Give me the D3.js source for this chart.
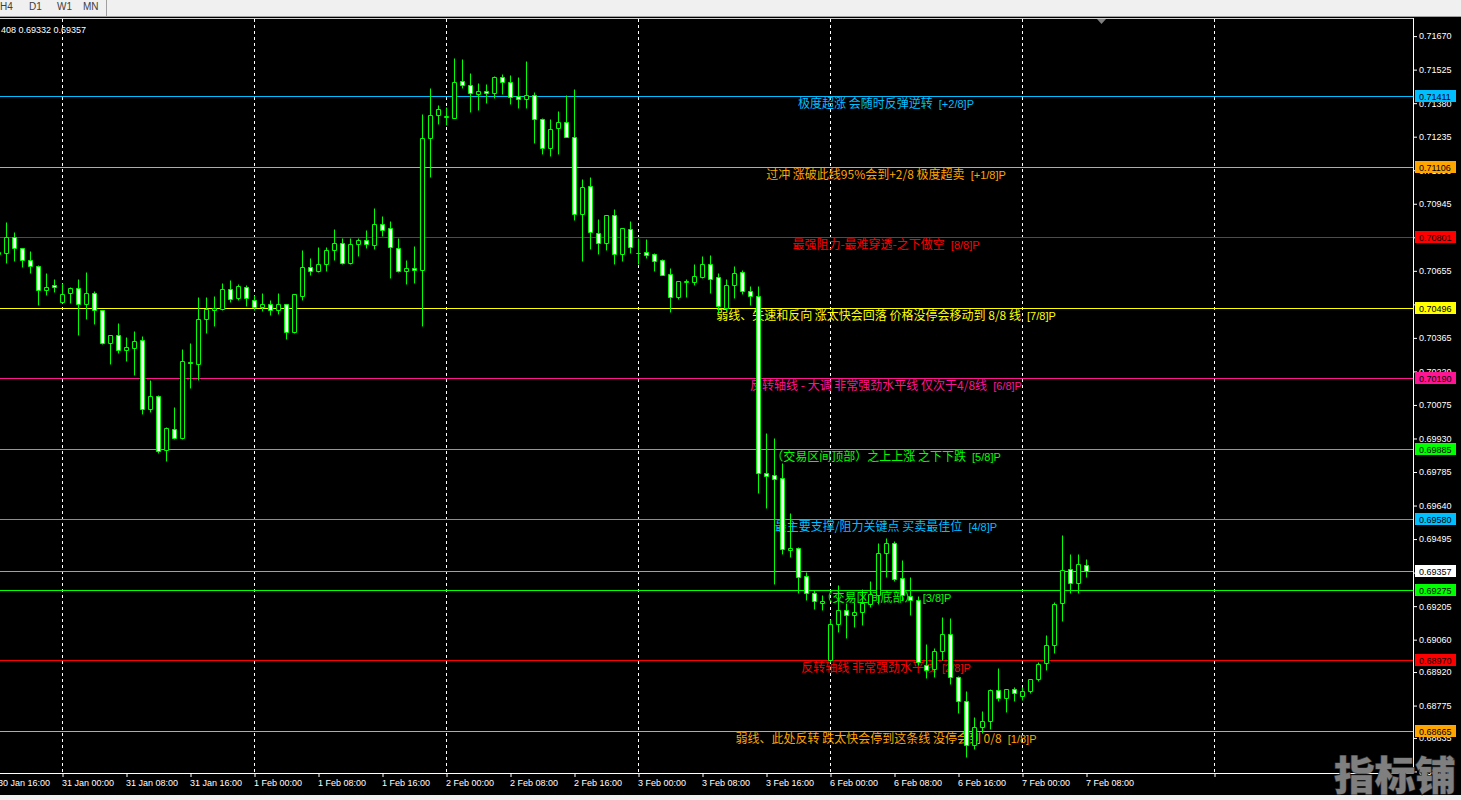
<!DOCTYPE html>
<html><head><meta charset="utf-8">
<script src="https://cdn.jsdelivr.net/npm/d3@7"></script>
<style>
html,body{margin:0;padding:0;background:#000;overflow:hidden}
svg{display:block}
</style></head><body>
<svg id="c" width="1461" height="800"></svg>
<script>
// ---------- DATA ----------
const opens = [0.70728,0.70731,0.70803,0.70752,0.70700,0.70675,0.70571,0.70592,0.70521,0.70560,
0.70579,0.70513,0.70558,0.70484,0.70344,0.70377,0.70314,0.70323,0.70355,0.70059,
0.70112,0.69880,0.69970,0.69933,0.70260,0.70251,0.70445,0.70485,0.70489,0.70575,
0.70536,0.70586,0.70528,0.70500,0.70510,0.70484,0.70510,0.70392,0.70547,0.70670,
0.70656,0.70683,0.70744,0.70774,0.70688,0.70770,0.70788,0.70765,0.70856,0.70839,
0.70752,0.70656,0.70666,0.70660,0.71228,0.71327,0.71319,0.71317,0.71475,0.71457,
0.71418,0.71431,0.71423,0.71492,0.71470,0.71410,0.71397,0.71414,0.71310,0.71185,
0.71271,0.71297,0.71232,0.70899,0.71020,0.70820,0.70777,0.70895,0.70726,0.70835,
0.70733,0.70735,0.70726,0.70700,0.70640,0.70541,0.70606,0.70606,0.70630,0.70683,
0.70627,0.70494,0.70592,0.70649,0.70566,0.70545,0.69779,0.69771,0.69758,0.69446,
0.69455,0.69334,0.69261,0.69219,0.68972,0.69127,0.69187,0.69165,0.69178,0.69213,
0.69252,0.69434,0.69477,0.69325,0.69248,0.69230,0.68949,0.68932,0.69010,0.69083,
0.68897,0.68794,0.68603,0.68681,0.68707,0.68841,0.68807,0.68845,0.68815,0.68837,
0.68889,0.68958,0.69036,0.69217,0.69364,0.69304,0.69382];
const highs = [0.70767,0.70866,0.70822,0.70755,0.70741,0.70680,0.70646,0.70620,0.70602,0.70584,
0.70620,0.70650,0.70568,0.70486,0.70377,0.70429,0.70369,0.70395,0.70373,0.70183,
0.70117,0.69978,0.70066,0.70317,0.70343,0.70542,0.70542,0.70546,0.70602,0.70615,
0.70598,0.70594,0.70550,0.70559,0.70529,0.70559,0.70510,0.70555,0.70745,0.70710,
0.70758,0.70758,0.70836,0.70797,0.70797,0.70797,0.70832,0.70927,0.70892,0.70870,
0.70797,0.70702,0.70762,0.71333,0.71446,0.71372,0.71365,0.71575,0.71571,0.71510,
0.71467,0.71463,0.71497,0.71506,0.71502,0.71493,0.71562,0.71428,0.71314,0.71311,
0.71346,0.71415,0.71441,0.71052,0.71061,0.70878,0.70895,0.70922,0.70839,0.70870,
0.70796,0.70791,0.70731,0.70705,0.70666,0.70610,0.70618,0.70683,0.70718,0.70722,
0.70644,0.70618,0.70675,0.70657,0.70588,0.70588,0.69952,0.69932,0.69823,0.69607,
0.69462,0.69354,0.69275,0.69252,0.69148,0.69295,0.69220,0.69224,0.69278,0.69315,
0.69477,0.69498,0.69485,0.69403,0.69330,0.69248,0.69040,0.69023,0.69157,0.69152,
0.68903,0.68837,0.68724,0.68750,0.68845,0.68936,0.68845,0.68854,0.68854,0.68889,
0.68962,0.69079,0.69222,0.69513,0.69429,0.69429,0.69408];
const lows = [0.70710,0.70690,0.70699,0.70673,0.70647,0.70509,0.70550,0.70563,0.70518,0.70516,
0.70377,0.70447,0.70426,0.70339,0.70253,0.70300,0.70265,0.70205,0.70037,0.70046,
0.69869,0.69834,0.69929,0.69929,0.70150,0.70184,0.70387,0.70418,0.70486,0.70519,
0.70529,0.70504,0.70486,0.70483,0.70464,0.70470,0.70362,0.70387,0.70530,0.70637,
0.70651,0.70656,0.70702,0.70683,0.70683,0.70719,0.70755,0.70749,0.70806,0.70625,
0.70651,0.70599,0.70604,0.70418,0.71062,0.71291,0.71284,0.71314,0.71447,0.71343,
0.71352,0.71382,0.71404,0.71418,0.71378,0.71360,0.71360,0.71209,0.71161,0.71153,
0.71161,0.71232,0.70876,0.70699,0.70751,0.70729,0.70746,0.70686,0.70699,0.70733,
0.70686,0.70712,0.70656,0.70636,0.70478,0.70532,0.70541,0.70592,0.70625,0.70560,
0.70473,0.70486,0.70536,0.70553,0.70506,0.69696,0.69631,0.69300,0.69429,0.69419,
0.69261,0.69232,0.69191,0.69187,0.68964,0.69095,0.69069,0.69116,0.69122,0.69203,
0.69213,0.69330,0.69312,0.69230,0.69165,0.68952,0.68893,0.68897,0.68971,0.68867,
0.68742,0.68554,0.68586,0.68655,0.68673,0.68794,0.68746,0.68794,0.68798,0.68828,
0.68880,0.68928,0.69001,0.69140,0.69261,0.69261,0.69332];
const closes = [0.70736,0.70803,0.70752,0.70700,0.70675,0.70572,0.70584,0.70584,0.70553,0.70581,
0.70513,0.70558,0.70484,0.70344,0.70377,0.70314,0.70324,0.70350,0.70059,0.70112,
0.69876,0.69974,0.69933,0.70264,0.70255,0.70445,0.70489,0.70493,0.70575,0.70532,
0.70588,0.70536,0.70500,0.70510,0.70484,0.70510,0.70392,0.70553,0.70670,0.70656,
0.70683,0.70744,0.70775,0.70688,0.70771,0.70788,0.70770,0.70856,0.70832,0.70757,
0.70656,0.70666,0.70660,0.71228,0.71327,0.71353,0.71323,0.71470,0.71457,0.71423,
0.71431,0.71423,0.71492,0.71470,0.71405,0.71397,0.71414,0.71310,0.71185,0.71267,
0.71297,0.71232,0.70899,0.71016,0.70824,0.70777,0.70895,0.70726,0.70839,0.70759,
0.70731,0.70725,0.70699,0.70638,0.70541,0.70610,0.70610,0.70631,0.70683,0.70621,
0.70503,0.70592,0.70644,0.70566,0.70545,0.69779,0.69767,0.69754,0.69451,0.69455,
0.69330,0.69263,0.69226,0.69226,0.69127,0.69187,0.69165,0.69178,0.69217,0.69256,
0.69434,0.69477,0.69321,0.69252,0.69230,0.68962,0.68928,0.69010,0.69083,0.68897,
0.68794,0.68603,0.68681,0.68707,0.68841,0.68807,0.68845,0.68828,0.68837,0.68889,
0.68954,0.69036,0.69213,0.69360,0.69304,0.69386,0.69357];

// time axis (bar index of each tick, label)
const timeTickIdx = [0,8,16,24,32,40,48,56,64,72,80,88,96,104,112,120,128,136,152];
const timeTickLabels = ["30 Jan 16:00","31 Jan 00:00","31 Jan 08:00","31 Jan 16:00","1 Feb 00:00","1 Feb 08:00","1 Feb 16:00",
"2 Feb 00:00","2 Feb 08:00","2 Feb 16:00","3 Feb 00:00","3 Feb 08:00","3 Feb 16:00","6 Feb 00:00","6 Feb 08:00",
"6 Feb 16:00","7 Feb 00:00","7 Feb 08:00",""];
const daySeparatorIdx = [8,32,56,80,104,128,152];

// price axis ticks
const priceTicks = [0.71670,0.71525,0.71380,0.71235,0.71090,0.70945,0.70800,0.70655,0.70510,0.70365,0.70220,
0.70075,0.69930,0.69785,0.69640,0.69495,0.69350,0.69205,0.69060,0.68920,0.68775,0.68635,0.68490];

// Murrey math levels
const levelPrices = [0.71411,0.71106,0.70801,0.70496,0.70190,0.69885,0.69580,0.69275,0.68970,0.68665];
const levelTexts = ["极度超涨 会随时反弹逆转","过冲 涨破此线95%会到+2/8 极度超卖","最强阻力-最难穿透-之下做空",
"弱线、失速和反向 涨太快会回落 价格没停会移动到 8/8 线","反转轴线 - 大调 非常强劲水平线 仅次于4/8线",
"（交易区间顶部）之上上涨 之下下跌","最主要支撑/阻力关键点 买卖最佳位","（交易区间底部）",
"反转轴线 非常强劲水平线","弱线、此处反转 跌太快会停到这条线 没停会到 0/8"];
const levelTags = ["[+2/8]P","[+1/8]P","[8/8]P","[7/8]P","[6/8]P","[5/8]P","[4/8]P","[3/8]P","[2/8]P","[1/8]P"];
const levelColors = ["#00bfff","#ffa500","#ff0000","#ffff00","#ff1493","#00ff00","#00bfff","#00ff00","#ff0000","#ffa500"];

const bidPrice = 0.69357;
const infoText = "408 0.69332 0.69357";
const periodTabs = ["H4","D1","W1","MN"];

// ---------- DRAW ----------
const W = 1461, H = 800;
const plotRight = 1413, plotTop = 18, plotBottom = 773;
const svg = d3.select("#c");
const x = d3.scaleLinear().domain([0, 1]).range([-1.5, 6.5]);
const y = d3.scaleLinear().domain([0.71411, 0.68665]).range([96, 731]);
const Y = p => Math.round(y(p)) + 0.5;
const numFont = "'Liberation Sans', Arial, sans-serif";
const cjkFont = "'Noto Sans CJK SC', 'Noto Sans', sans-serif";

svg.append("rect").attr("width", W).attr("height", H).attr("fill", "#000");
// toolbar
svg.append("rect").attr("x",0).attr("y",0).attr("width",W).attr("height",17).attr("fill","#f0f0f0");
svg.append("line").attr("x1",0).attr("x2",W).attr("y1",16.5).attr("y2",16.5).attr("stroke","#a0a0a0");
svg.append("line").attr("x1",106.5).attr("x2",106.5).attr("y1",0).attr("y2",16).attr("stroke","#a0a0a0");
const tabX = [0, 29, 57, 83];
svg.selectAll("text.tab").data(periodTabs).join("text").attr("class","tab")
  .attr("x",(d,i)=>tabX[i]).attr("y",10).attr("font-family",numFont).attr("font-size",10)
  .attr("fill","#404040").text(d=>d);
// bottom strip
svg.append("rect").attr("x",0).attr("y",795).attr("width",W).attr("height",5).attr("fill","#f0f0f0");
// top frame line
svg.append("line").attr("x1",0).attr("x2",plotRight).attr("y1",18.5).attr("y2",18.5).attr("stroke","#d0d0d0");

const plot = svg.append("g");
// day separators
plot.selectAll("line.sep").data(daySeparatorIdx).join("line").attr("class","sep")
  .attr("x1",d=>x(d)).attr("x2",d=>x(d)).attr("y1",19).attr("y2",plotBottom)
  .attr("stroke","#ffffff").attr("stroke-dasharray","3,3");

// level lines
plot.selectAll("line.lvl").data(levelPrices).join("line").attr("class","lvl")
  .attr("x1",0).attr("x2",plotRight).attr("y1",d=>Y(d)).attr("y2",d=>Y(d))
  .attr("stroke",(d,i)=>levelColors[i]).attr("stroke-width",1);
// bid line
plot.append("line").attr("x1",0).attr("x2",plotRight).attr("y1",Y(bidPrice)).attr("y2",Y(bidPrice))
  .attr("stroke","#a0a0a0");

// level texts
const lt = plot.selectAll("text.lt").data(levelPrices).join("text").attr("class","lt")
  .attr("x",886).attr("y",d=>Y(d)+11).attr("text-anchor","middle")
  .attr("fill",(d,i)=>levelColors[i]).attr("font-size",12).attr("font-family",cjkFont);
lt.append("tspan").text((d,i)=>levelTexts[i]);
lt.append("tspan").attr("font-family",numFont).attr("font-size",11).attr("xml:space","preserve")
  .text((d,i)=>"  " + levelTags[i]);

// candles
const idx = d3.range(opens.length);
const cg = plot.append("g");
cg.selectAll("line.wick").data(idx).join("line").attr("class","wick")
  .attr("x1",i=>x(i)).attr("x2",i=>x(i)).attr("y1",i=>Y(highs[i])).attr("y2",i=>Y(lows[i]))
  .attr("stroke","#00ff00");
cg.selectAll("path.body").data(idx).join("path").attr("class","body")
  .attr("d",i=>{
    const x0 = x(i)-2, x1 = x(i)+2;
    const yt = Y(Math.max(opens[i],closes[i])), yb = Y(Math.min(opens[i],closes[i]));
    return `M${x0},${yt}H${x1}V${yb}H${x0}Z`;
  })
  .attr("fill",i=>closes[i]>opens[i] ? "#000" : "#fff")
  .attr("stroke","#00ff00");

// chart shift marker
svg.append("path").attr("d","M1097,19L1106,19L1101.5,24Z").attr("fill","#808080");

// axes
svg.append("line").attr("x1",plotRight+0.5).attr("x2",plotRight+0.5).attr("y1",18).attr("y2",plotBottom+0.5).attr("stroke","#fff");
svg.append("line").attr("x1",0).attr("x2",plotRight+0.5).attr("y1",plotBottom+0.5).attr("y2",plotBottom+0.5).attr("stroke","#fff");

const ra = svg.append("g").attr("transform",`translate(${plotRight},0)`)
  .call(d3.axisRight(y).tickValues(priceTicks).tickSize(4).tickPadding(2).tickFormat(d3.format(".5f")));
ra.select(".domain").remove();
ra.selectAll(".tick line").attr("stroke","#fff");
ra.selectAll(".tick text").attr("fill","#fff").attr("font-family",numFont).attr("font-size",9);

const ba = svg.append("g").attr("transform",`translate(0,${plotBottom})`)
  .call(d3.axisBottom(x).tickValues(timeTickIdx).tickSize(4).tickPadding(3).tickFormat((d,i)=>timeTickLabels[i]));
ba.select(".domain").remove();
ba.selectAll(".tick line").attr("stroke","#fff");
ba.selectAll(".tick text").attr("fill","#fff").attr("font-family",numFont).attr("font-size",9)
  .attr("text-anchor","start").attr("x",-1);

// price labels on right
const allLabels = levelPrices.map((p,i)=>({p, c: levelColors[i]})).concat([{p: bidPrice, c: "#ffffff"}]);
const lb = svg.selectAll("g.lb").data(allLabels).join("g").attr("class","lb")
  .attr("transform",d=>`translate(1415,${Math.round(y(d.p))})`);
lb.append("rect").attr("x",0).attr("y",-6).attr("width",41).attr("height",12).attr("fill",d=>d.c);
lb.append("text").attr("x",4).attr("y",3.5).attr("font-family",numFont).attr("font-size",9)
  .attr("fill","#000").text(d=>d3.format(".5f")(d.p));

// info text
svg.append("text").attr("x",1).attr("y",33).attr("font-family",numFont).attr("font-size",9)
  .attr("fill","#fff").text(infoText);

// watermark
svg.append("text").attr("x",1334).attr("y",790).attr("font-family",cjkFont).attr("font-weight",900)
  .attr("font-size",40).attr("textLength",122).attr("lengthAdjust","spacingAndGlyphs")
  .attr("fill","#7f7f7f").attr("stroke","#2e2e2e").attr("stroke-width",1.2).attr("paint-order","stroke")
  .text("指标铺");
</script>
</body></html>
